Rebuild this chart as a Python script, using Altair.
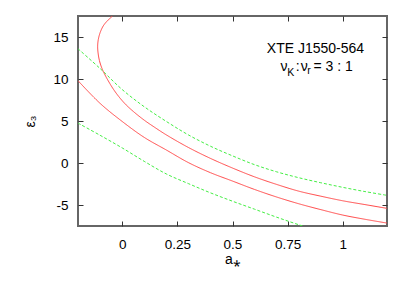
import altair as alt
import pandas as pd

# ---- data ----
red_upper_x = [-0.030, -0.044, -0.068, -0.086, -0.100, -0.108, -0.111, -0.109, -0.103, -0.092, -0.078,
               -0.060, -0.040, -0.015, 0.015, 0.05, 0.1, 0.15, 0.2, 0.3, 0.4, 0.5, 0.6, 0.7, 0.8,
               0.9, 1.0, 1.1, 1.2]
red_upper_y = [18.0, 17.5, 16.9, 16.3, 15.5, 14.7, 13.9, 13.1, 12.2, 11.3, 10.5,
               9.65, 8.8, 7.9, 7.0, 6.15, 5.1, 4.2, 3.35, 1.85, 0.55, -0.6, -1.65, -2.55, -3.35,
               -3.95, -4.5, -4.95, -5.4]

red_lower_x = [-0.2, -0.1, 0.0, 0.1, 0.2, 0.3, 0.4, 0.5, 0.6, 0.7, 0.8, 0.9, 1.0, 1.1, 1.2]
red_lower_y = [9.8, 7.1, 4.95, 3.05, 1.55, 0.05, -1.15, -2.15, -3.15, -4.05, -4.85, -5.55, -6.2, -6.7, -7.15]

green_upper_x = [-0.2, -0.1, 0.0, 0.1, 0.2, 0.3, 0.4, 0.5, 0.6, 0.7, 0.8, 0.9, 1.0, 1.1, 1.2]
green_upper_y = [13.6, 11.25, 8.75, 6.7, 4.95, 3.35, 2.0, 0.85, -0.2, -1.05, -1.75, -2.35, -2.9, -3.4, -3.85]

green_lower_x = [-0.2, -0.1, 0.0, 0.1, 0.2, 0.3, 0.4, 0.5, 0.6, 0.7, 0.8, 0.9]
green_lower_y = [4.75, 3.3, 1.8, 0.2, -1.3, -2.45, -3.55, -4.55, -5.5, -6.45, -7.35, -8.2]

x_ticks = [0, 0.25, 0.5, 0.75, 1]
y_ticks = [-5, 0, 5, 10, 15]

series_names = ["red_upper", "red_lower", "green_upper", "green_lower"]
series_colors = ["#ff4848", "#ff4848", "#44ee44", "#44ee44"]
series_dash = [[1, 0], [1, 0], [3, 2], [3, 2]]

rows = []
for name, xs, ys in [("red_upper", red_upper_x, red_upper_y),
                     ("red_lower", red_lower_x, red_lower_y),
                     ("green_upper", green_upper_x, green_upper_y),
                     ("green_lower", green_lower_x, green_lower_y)]:
    for i, (xv, yv) in enumerate(zip(xs, ys)):
        rows.append({"series": name, "idx": i, "x": xv, "y": yv})
df = pd.DataFrame(rows)

W, H = 309, 210
FONT = "Liberation Sans"

xscale = alt.Scale(domain=[-0.2, 1.2], nice=False, zero=False)
yscale = alt.Scale(domain=[-7.5, 17.5], nice=False, zero=False)

color = alt.Color("series:N", scale=alt.Scale(domain=series_names, range=series_colors), legend=None)
dash = alt.StrokeDash("series:N", scale=alt.Scale(domain=series_names, range=series_dash), legend=None)

curves = alt.Chart(df).mark_line(clip=True, strokeWidth=1, interpolate="catmull-rom").encode(
    x=alt.X("x:Q", scale=xscale,
            axis=alt.Axis(values=x_ticks, labelExpr="datum.value + ''", ticks=False, tickSize=0,
                          domain=False, grid=False, labelPadding=11, labelFont=FONT,
                          labelFontSize=13.5, labelColor="#000", title="a⁎", titleFont=FONT,
                          titleFontSize=14, titleFontWeight="normal", titleColor="#000",
                          titlePadding=2)),
    y=alt.Y("y:Q", scale=yscale,
            axis=alt.Axis(values=y_ticks, labelExpr="datum.value + ''", ticks=False, tickSize=0,
                          domain=False, grid=False, labelPadding=10, labelFont=FONT,
                          labelFontSize=13.5, labelColor="#000", title="ε₃", titleFont=FONT,
                          titleFontSize=14, titleFontWeight="normal", titleColor="#000",
                          titlePadding=15)),
    color=color,
    strokeDash=dash,
    detail="series:N",
    order="idx:Q",
)


def tick_layer(xorient, yorient):
    return alt.Chart(df).mark_line(opacity=0, clip=True).encode(
        x=alt.X("x:Q", scale=xscale,
                axis=alt.Axis(orient=xorient, offset=-H, values=x_ticks, labels=False, domain=False,
                              grid=False, tickSize=5, tickColor="#333", tickWidth=1, title=None)),
        y=alt.Y("y:Q", scale=yscale,
                axis=alt.Axis(orient=yorient, offset=-W, values=y_ticks, labels=False, domain=False,
                              grid=False, tickSize=5, tickColor="#333", tickWidth=1, title=None)),
        detail="series:N",
        order="idx:Q",
    )


def label(text, px, py, size, align="left"):
    return alt.Chart(pd.DataFrame({"t": [text]})).mark_text(
        align=align, baseline="alphabetic", font=FONT, fontSize=size, color="#000"
    ).encode(x=alt.value(px), y=alt.value(py), text="t:N")


annot = [
    label("XTE J1550-564", 237.5, 37, 14, "center"),
    label("ν", 202.5, 54.7, 14),
    label("K", 209.3, 59.5, 10.5),
    label(":", 217.8, 54.7, 14),
    label("ν", 222.7, 54.7, 14),
    label("r", 229.3, 58, 10.5),
    label("= 3 : 1", 235.5, 54.7, 14),
]

chart = alt.layer(curves, tick_layer("top", "right"), tick_layer("bottom", "left"), *annot).resolve_axis(
    x="independent", y="independent"
).properties(
    width=W, height=H,
    padding={"left": 70, "top": 8, "right": 14, "bottom": 52},
    autosize=alt.AutoSizeParams(type="none"),
).configure_view(stroke="#666", strokeWidth=2)

chart.save("out.html", embed_options={"renderer": "svg", "actions": False})
